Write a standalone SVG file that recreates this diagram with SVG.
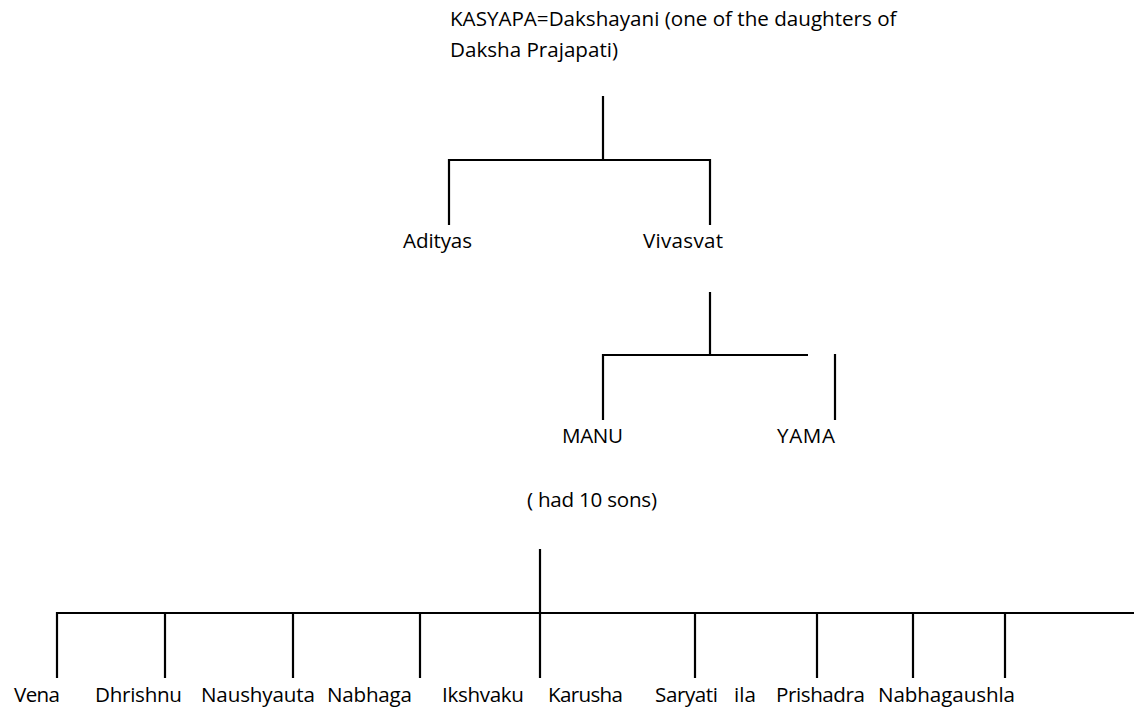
<svg xmlns="http://www.w3.org/2000/svg" width="1134" height="708" viewBox="0 0 1134 708">
<style>
text{font-family:"Open Sans","Liberation Sans",sans-serif;font-size:20.6px;fill:#000}
.c line{stroke:#000;stroke-width:2.2;fill:none}
</style>
<rect width="1134" height="708" fill="#fff"/>
<g id="connectors" class="c">
<line x1="603" y1="96" x2="603" y2="160"/>
<line x1="448" y1="160" x2="711" y2="160"/>
<line x1="449" y1="159" x2="449" y2="225"/>
<line x1="710" y1="159" x2="710" y2="225"/>
<line x1="710" y1="292" x2="710" y2="355"/>
<line x1="602" y1="355" x2="808" y2="355"/>
<line x1="603" y1="354" x2="603" y2="420"/>
<line x1="835" y1="354" x2="835" y2="420"/>
<line x1="540" y1="549" x2="540" y2="678"/>
<line x1="56" y1="613" x2="1134" y2="613"/>
<line x1="57" y1="612" x2="57" y2="678"/>
<line x1="165" y1="612" x2="165" y2="678"/>
<line x1="293" y1="612" x2="293" y2="678"/>
<line x1="420" y1="612" x2="420" y2="678"/>
<line x1="695" y1="612" x2="695" y2="678"/>
<line x1="817" y1="612" x2="817" y2="678"/>
<line x1="913" y1="612" x2="913" y2="678"/>
<line x1="1005" y1="612" x2="1005" y2="678"/>
</g>
<g id="kasyapa"><text x="450" y="26">KASYAPA=Dakshayani (one of the daughters of</text><text x="450" y="57">Daksha Prajapati)</text></g>
<g id="adityas"><text x="403" y="248" textLength="69">Adityas</text></g>
<g id="vivasvat"><text x="643" y="248" textLength="80">Vivasvat</text></g>
<g id="manu"><text x="562" y="443" textLength="61">MANU</text></g>
<g id="yama"><text x="777" y="443" textLength="58">YAMA</text></g>
<g id="sons-note"><text x="527" y="507" textLength="130">( had 10 sons)</text></g>
<g id="vena"><text x="14" y="702" textLength="46">Vena</text></g>
<g id="dhrishnu"><text x="95" y="702" textLength="87">Dhrishnu</text></g>
<g id="naushyauta"><text x="201" y="702" textLength="114">Naushyauta</text></g>
<g id="nabhaga"><text x="327" y="702" textLength="85">Nabhaga</text></g>
<g id="ikshvaku"><text x="442" y="702" textLength="82">Ikshvaku</text></g>
<g id="karusha"><text x="548" y="702" textLength="75">Karusha</text></g>
<g id="saryati"><text x="655" y="702" textLength="63">Saryati</text></g>
<g id="ila"><text x="734" y="702">ila</text></g>
<g id="prishadra"><text x="776" y="702" textLength="89">Prishadra</text></g>
<g id="nabhagaushla"><text x="878" y="702" textLength="137">Nabhagaushla</text></g>
</svg>
